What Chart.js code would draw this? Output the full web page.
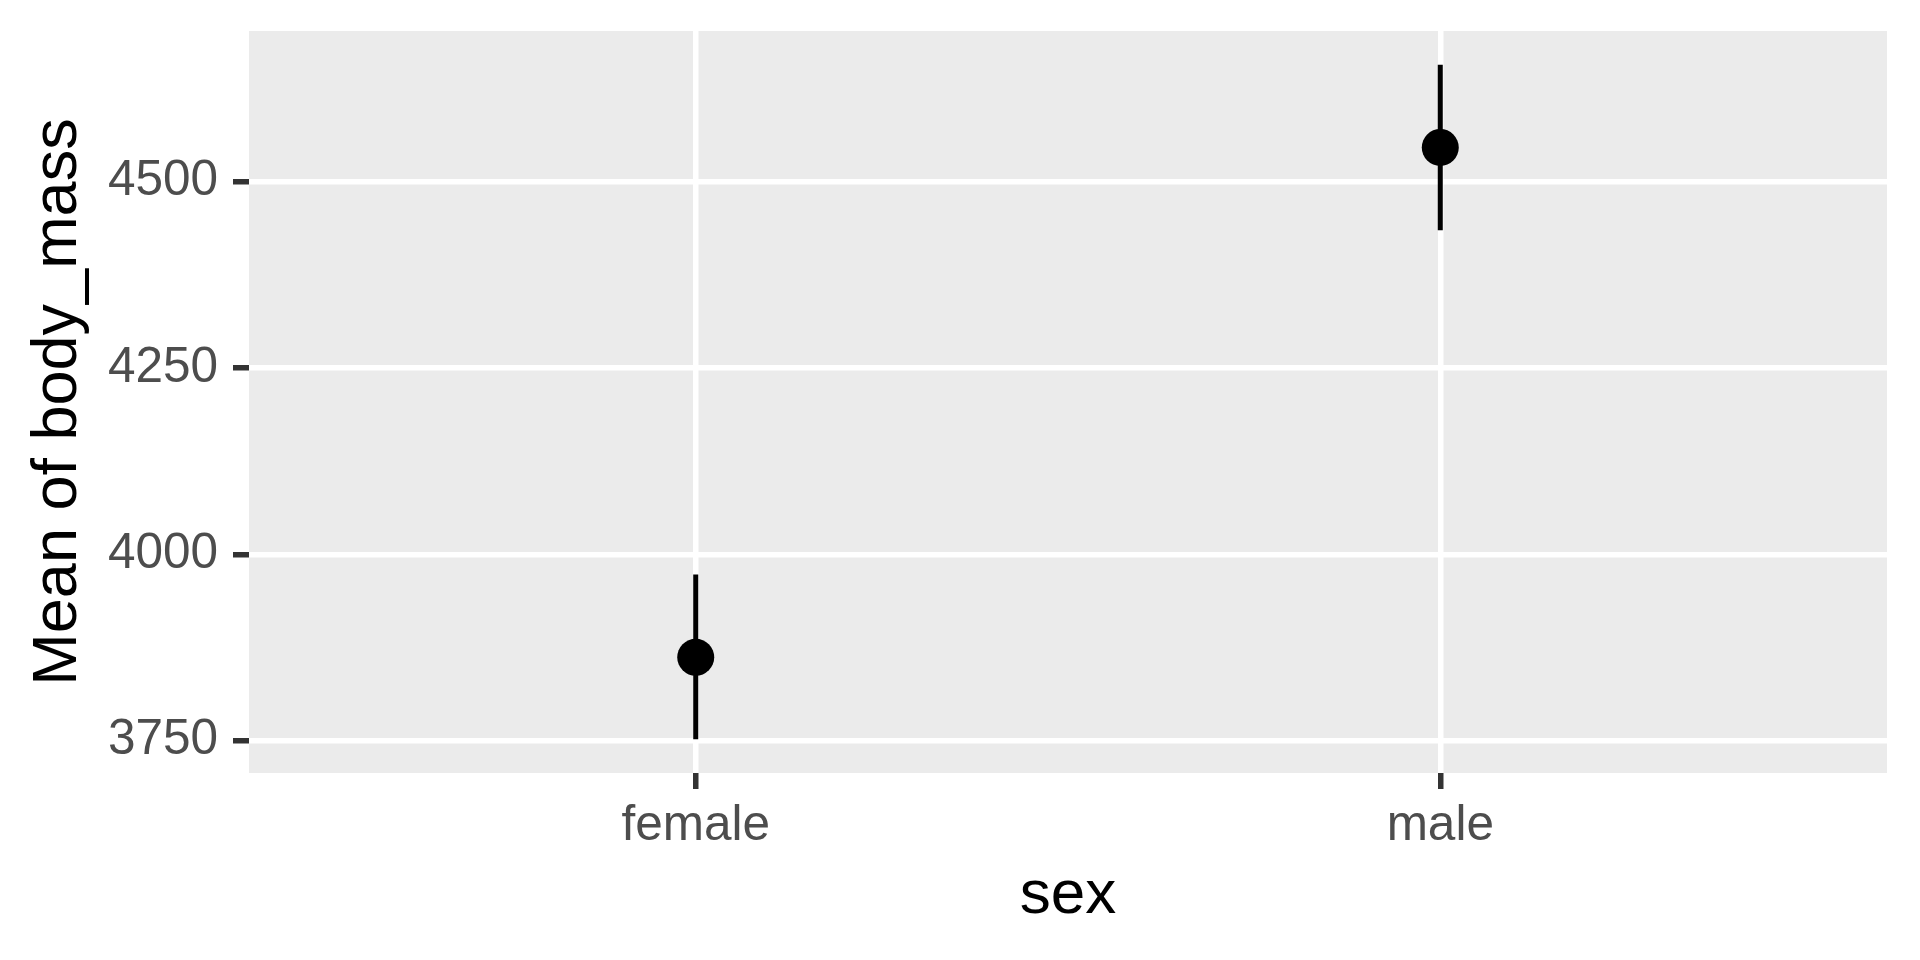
<!DOCTYPE html>
<html>
<head>
<meta charset="utf-8">
<title>Mean of body_mass by sex</title>
<script src="https://cdn.jsdelivr.net/npm/chart.js@4.4.1/dist/chart.umd.min.js"></script>
<style>
    html, body { margin: 0; padding: 0; background: #ffffff; }
    #wrap { width: 1920px; height: 960px; }
</style>
</head>
<body>
<div id="wrap"><canvas id="meanChart" width="1920" height="960"></canvas></div>
<script>
// Dados
const categories = ['female', 'male'];
const means = [3862, 4546];       // média de body_mass
const lower = [3752, 4435];       // limite inferior da barra de erro
const upper = [3973, 4657];       // limite superior da barra de erro
const yTicks = [3750, 4000, 4250, 4500];

// Expansão de 5% no eixo y (como no ggplot)
const lo = Math.min(...lower);
const hi = Math.max(...upper);
const yMin = lo - 0.05 * (hi - lo);
const yMax = hi + 0.05 * (hi - lo);

const font = 'Liberation Sans, Arial, sans-serif';

// Fundo cinza do painel
const panelBg = {
    id: 'panelBg',
    beforeDraw(chart) {
        const { ctx, chartArea } = chart;
        ctx.save();
        ctx.fillStyle = '#EBEBEB';
        ctx.fillRect(chartArea.left, chartArea.top, chartArea.right - chartArea.left, chartArea.bottom - chartArea.top);
        ctx.restore();
    }
};

// Uma linha vertical por categoria para as barras de erro
const errorSets = categories.map((c, i) => ({
    label: c + ' erro',
    data: [{ x: i + 1, y: lower[i] }, { x: i + 1, y: upper[i] }],
    showLine: true,
    borderColor: '#000000',
    borderWidth: 5,
    pointRadius: 0
}));

const ctx = document.getElementById('meanChart').getContext('2d');
window.myMeanChart = new Chart(ctx, {
    type: 'scatter',
    data: {
        datasets: [
            ...errorSets,
            {
                label: 'Mean of body_mass',
                data: means.map((m, i) => ({ x: i + 1, y: m })),
                pointRadius: 18.5,
                pointBackgroundColor: '#000000',
                pointBorderWidth: 0
            }
        ]
    },
    options: {
        responsive: false,
        animation: false,
        devicePixelRatio: 1,
        layout: { padding: { top: 31, right: 33, left: 0, bottom: 0 } },
        plugins: {
            legend: { display: false },
            tooltip: { enabled: false }
        },
        scales: {
            x: {
                type: 'linear',
                min: 0.4,
                max: categories.length + 0.6,
                afterBuildTicks: (scale) => { scale.ticks = categories.map((c, i) => ({ value: i + 1 })); },
                afterFit: (scale) => {
                    scale.height = 187;
                    scale.paddingLeft = 0;
                    scale.paddingRight = 0;
                },
                border: { display: false },
                grid: { color: '#FFFFFF', lineWidth: 5.5, tickColor: '#333333', tickLength: 16, tickWidth: 5.5 },
                ticks: {
                    autoSkip: false,
                    maxRotation: 0,
                    padding: 8,
                    color: '#4D4D4D',
                    font: { family: font, size: 49.5 },
                    callback: (v) => categories[v - 1]
                },
                title: {
                    display: true,
                    text: 'sex',
                    color: '#000000',
                    font: { family: font, size: 62 },
                    padding: { top: 0, bottom: 27 }
                }
            },
            y: {
                min: yMin,
                max: yMax,
                afterBuildTicks: (scale) => { scale.ticks = yTicks.map(v => ({ value: v })); },
                afterFit: (scale) => {
                    scale.width = 249;
                    scale.paddingTop = 0;
                    scale.paddingBottom = 0;
                },
                border: { display: false },
                grid: { color: '#FFFFFF', lineWidth: 5.5, tickColor: '#333333', tickLength: 16, tickWidth: 5.5 },
                ticks: {
                    padding: 15,
                    color: '#4D4D4D',
                    font: { family: font, size: 49.5 },
                    callback: (v) => String(v)
                },
                title: {
                    display: true,
                    text: 'Mean of body_mass',
                    color: '#000000',
                    font: { family: font, size: 63 },
                    padding: { top: 21, bottom: 0 }
                }
            }
        }
    },
    plugins: [panelBg]
});
</script>
</body>
</html>
